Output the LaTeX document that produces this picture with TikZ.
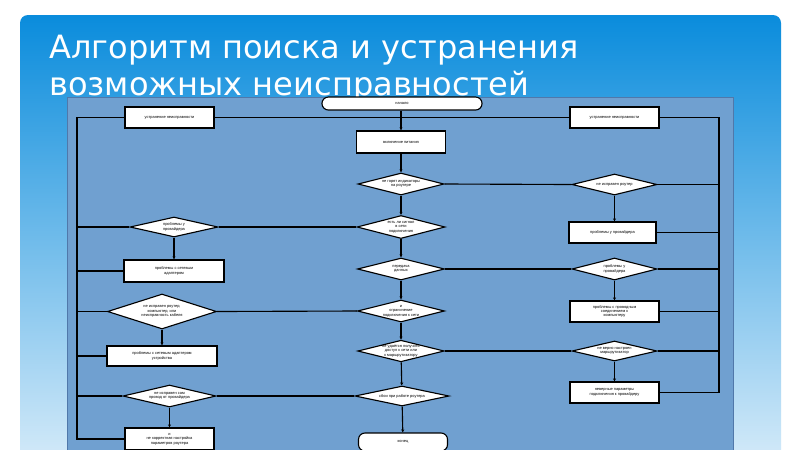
\documentclass[tikz,border=0pt]{standalone}
\usepackage{fontspec}
\setmainfont{Liberation Sans}
\newfontfamily\titlefont{DejaVu Sans}
\usetikzlibrary{shapes.geometric,arrows.meta}
\definecolor{slidetop}{RGB}{10,140,220}
\definecolor{slidemid}{RGB}{150,210,245}
\definecolor{slidebot}{RGB}{220,238,250}
\definecolor{panelblue}{RGB}{112,160,208}
\definecolor{paneledge}{RGB}{80,120,170}
\begin{document}
\begin{tikzpicture}[x=0.025cm, y=-0.025cm,
	line/.style={line width=0.8pt, black},
	flow/.style={line, -{Stealth[length=2.2pt,width=2.2pt]}},
	block/.style={draw, line width=0.8pt, fill=white, inner sep=0pt, align=center,
		font=\fontsize{2.8}{3.1}\selectfont},
	decision/.style={block, diamond, aspect=4},
	terminal/.style={block, rounded corners=0.16cm}]
		\useasboundingbox (0, 0) rectangle (800, 449);
		% the slide and its title
		\fill[white] (0, 0) rectangle (800, 449);
		\shade[top color=slidetop, middle color=slidemid, bottom color=slidebot, rounded corners=0.2cm]
			(20, 15) rectangle (781, 480);
		\node[anchor=base west, align=left, text=white, inner sep=0pt,
			font=\titlefont\fontsize{22.8}{26.3}\selectfont] (title) at (49, 95)
			{Алгоритм поиска и устранения\\возможных неисправностей};
		% the panel
		\draw[fill=panelblue, draw=paneledge, line width=0.4pt] (67, 97) rectangle (733, 470);
		% the middle column
		\node[terminal, minimum width=4cm, minimum height=0.325cm] (start) at (402, 103.5) {начало};
		\node[block, minimum width=2.225cm, minimum height=0.55cm] (power) at (401, 142) {включение питания};
		\node[decision, minimum width=2.15cm, minimum height=0.55cm] (d1) at (401, 184) {не горят индикаторы\\на роутере};
		\node[decision, minimum width=2.2cm, minimum height=0.575cm] (d2) at (401, 227) {есть ли сигнал\\в сети\\подключения};
		\node[decision, minimum width=2.175cm, minimum height=0.55cm] (d3) at (401, 269) {передача\\данных};
		\node[decision, minimum width=2.175cm, minimum height=0.55cm] (d4) at (401, 311) {и\\ограничение\\подключения к сети};
		\node[decision, minimum width=2.15cm, minimum height=0.5cm] (d5) at (401, 351) {не удаётся получить\\доступ к сети или\\к маршрутизатору};
		\node[decision, minimum width=2.35cm, minimum height=0.5cm] (d6) at (402, 396) {сбои при работе роутера};
		\node[terminal, minimum width=2.225cm, minimum height=0.45cm] (end) at (403, 442) {конец};
		% the left column
		\node[block, minimum width=2.225cm, minimum height=0.525cm] (fixl) at (169.5, 117.5) {устранение неисправности};
		\node[decision, minimum width=2.2cm, minimum height=0.5cm] (ld1) at (174, 227) {проблемы у\\провайдера};
		\node[block, minimum width=2.5cm, minimum height=0.55cm] (lb1) at (174, 271) {проблемы с сетевым\\адаптером};
		\node[decision, minimum width=2.725cm, minimum height=0.875cm] (ld2) at (162, 311.5) {не исправен роутер,\\компьютер, или\\неисправность кабеля};
		\node[block, minimum width=2.75cm, minimum height=0.5cm] (lb2) at (162, 356) {проблемы с сетевым адаптером\\устройства};
		\node[decision, minimum width=2.325cm, minimum height=0.55cm] (ld3) at (169.5, 396) {не исправен сам\\провод от провайдера};
		\node[block, minimum width=2.225cm, minimum height=0.55cm] (lb3) at (169.5, 439) {и\\не корректная настройка\\параметров роутера};
		% the right column
		\node[block, minimum width=2.225cm, minimum height=0.525cm] (fixr) at (614.5, 117.5) {устранение неисправности};
		\node[decision, minimum width=2.125cm, minimum height=0.525cm] (rd1) at (614.5, 184.5) {не исправен роутер};
		\node[block, minimum width=2.175cm, minimum height=0.525cm] (rb1) at (612.5, 232.5) {проблемы у провайдера};
		\node[decision, minimum width=2.125cm, minimum height=0.55cm] (rd2) at (614.5, 269) {проблемы у\\провайдера};
		\node[block, minimum width=2.225cm, minimum height=0.525cm] (rb2) at (614.5, 311.5) {проблемы с проводным\\соединением к\\компьютеру};
		\node[decision, minimum width=2.125cm, minimum height=0.5cm] (rd3) at (614.5, 351) {не верно настроен\\маршрутизатор};
		\node[block, minimum width=2.225cm, minimum height=0.525cm] (rb3) at (614.5, 392.5) {неверные параметры\\подключения к провайдеру};
		% the frame lines
		\coordinate (ltop) at (77, 117.5);
		\coordinate (rtop) at (719, 117.5);
		\coordinate (lbot) at (77, 439);
		\coordinate (rbot) at (719, 392.5);
		\draw[line] (fixl.east) -- (fixr.west);
		\draw[line] (fixl.west) -- (ltop) -- (lbot) -- (lb3.west);
		\draw[line] (fixr.east) -- (rtop) -- (rbot) -- (rb3.east);
		% the middle flow
		\draw[flow] (start.south -| power) -- (power);
		\draw[flow] (power) -- (d1);
		\draw[flow] (d1) -- (d2);
		\draw[flow] (d2) -- (d3);
		\draw[flow] (d3) -- (d4);
		\draw[flow] (d4) -- (d5);
		\draw[flow] (d5) -- (d6);
		\draw[flow] (d6) -- (end);
		% the branches
		\draw[line] (d1.east) -- (rd1.west);
		\draw[line] (d2.west) -- (ld1.east);
		\draw[line] (d3.east) -- (rd2.west);
		\draw[line] (d4.west) -- (ld2.east);
		\draw[line] (d5.east) -- (rd3.west);
		\draw[line] (d6.west) -- (ld3.east);
		\draw[flow] (rd1) -- (rd1 |- rb1.north);
		\draw[flow] (rd2) -- (rb2);
		\draw[flow] (rd3) -- (rb3);
		\draw[flow] (ld1) -- (lb1);
		\draw[flow] (ld2) -- (lb2);
		\draw[flow] (ld3) -- (lb3);
		% back to the frame lines
		\draw[line] (ld1.west) -- (ld1.west -| ltop);
		\draw[line] (lb1.west) -- (lb1.west -| ltop);
		\draw[line] (ld2.west) -- (ld2.west -| ltop);
		\draw[line] (lb2.west) -- (lb2.west -| ltop);
		\draw[line] (ld3.west) -- (ld3.west -| ltop);
		\draw[line] (rd1.east) -- (rd1.east -| rtop);
		\draw[line] (rb1.east) -- (rb1.east -| rtop);
		\draw[line] (rd2.east) -- (rd2.east -| rtop);
		\draw[line] (rb2.east) -- (rb2.east -| rtop);
		\draw[line] (rd3.east) -- (rd3.east -| rtop);
	\end{tikzpicture}
\end{document}
